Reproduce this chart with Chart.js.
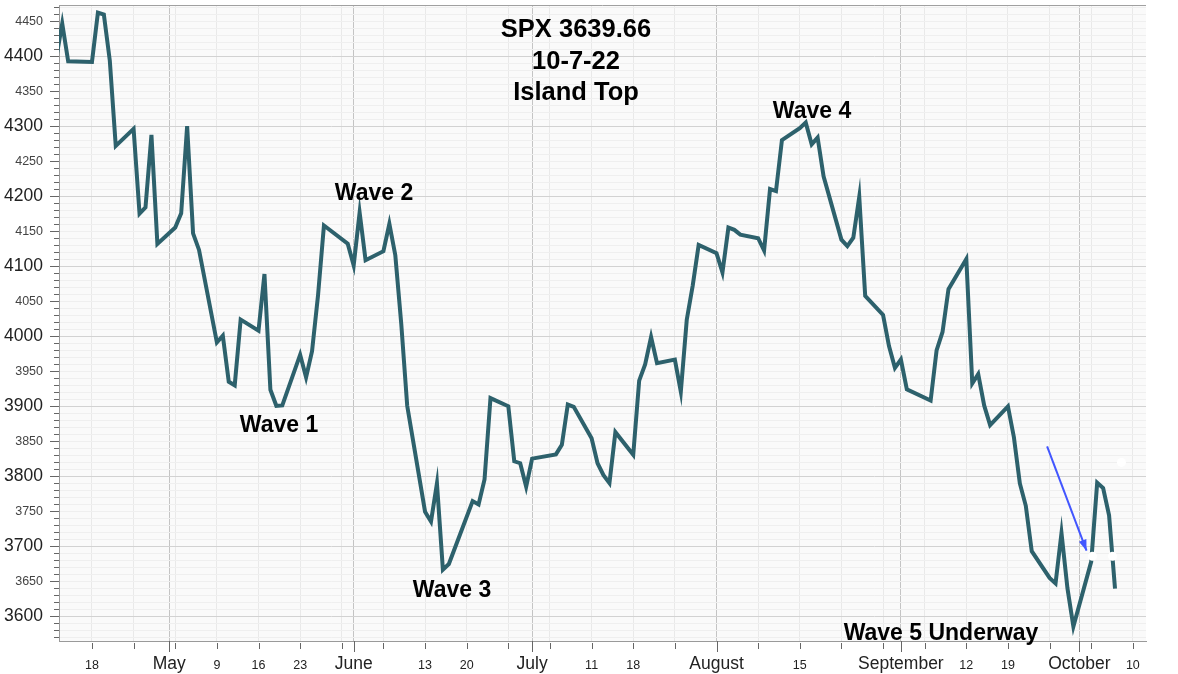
<!DOCTYPE html>
<html>
<head>
<meta charset="utf-8">
<script src="https://cdn.jsdelivr.net/npm/chart.js@4.4.1/dist/chart.umd.min.js"></script>
<style>
  html, body { margin: 0; padding: 0; background: #fff; }
  #wrap { width: 1178px; height: 674px; }
</style>
</head>
<body>
<div id="wrap"><canvas id="spx" width="1178" height="674"></canvas></div>
<script>
// SPX daily closes, April - October 2022
const tradingDays = [
  "2022-04-12", "2022-04-13", "2022-04-14", "2022-04-18", "2022-04-19", "2022-04-20", "2022-04-21", "2022-04-22",
  "2022-04-25", "2022-04-26", "2022-04-27", "2022-04-28", "2022-04-29",
  "2022-05-02", "2022-05-03", "2022-05-04", "2022-05-05", "2022-05-06",
  "2022-05-09", "2022-05-10", "2022-05-11", "2022-05-12", "2022-05-13",
  "2022-05-16", "2022-05-17", "2022-05-18", "2022-05-19", "2022-05-20",
  "2022-05-23", "2022-05-24", "2022-05-25", "2022-05-26", "2022-05-27",
  "2022-05-31", "2022-06-01", "2022-06-02", "2022-06-03",
  "2022-06-06", "2022-06-07", "2022-06-08", "2022-06-09", "2022-06-10",
  "2022-06-13", "2022-06-14", "2022-06-15", "2022-06-16", "2022-06-17",
  "2022-06-21", "2022-06-22", "2022-06-23", "2022-06-24",
  "2022-06-27", "2022-06-28", "2022-06-29", "2022-06-30", "2022-07-01",
  "2022-07-05", "2022-07-06", "2022-07-07", "2022-07-08",
  "2022-07-11", "2022-07-12", "2022-07-13", "2022-07-14", "2022-07-15",
  "2022-07-18", "2022-07-19", "2022-07-20", "2022-07-21", "2022-07-22",
  "2022-07-25", "2022-07-26", "2022-07-27", "2022-07-28", "2022-07-29",
  "2022-08-01", "2022-08-02", "2022-08-03", "2022-08-04", "2022-08-05",
  "2022-08-08", "2022-08-09", "2022-08-10", "2022-08-11", "2022-08-12",
  "2022-08-15", "2022-08-16", "2022-08-17", "2022-08-18", "2022-08-19",
  "2022-08-22", "2022-08-23", "2022-08-24", "2022-08-25", "2022-08-26",
  "2022-08-29", "2022-08-30", "2022-08-31", "2022-09-01", "2022-09-02",
  "2022-09-06", "2022-09-07", "2022-09-08", "2022-09-09",
  "2022-09-12", "2022-09-13", "2022-09-14", "2022-09-15", "2022-09-16",
  "2022-09-19", "2022-09-20", "2022-09-21", "2022-09-22", "2022-09-23",
  "2022-09-26", "2022-09-27", "2022-09-28", "2022-09-29", "2022-09-30",
  "2022-10-03", "2022-10-04", "2022-10-05", "2022-10-06", "2022-10-07"
];
const closes = [
  4397.45, 4446.59, 4392.59, 4391.69, 4462.21, 4459.45, 4393.66, 4271.78,
  4296.12, 4175.20, 4183.96, 4287.50, 4131.93,
  4155.38, 4175.48, 4300.17, 4146.87, 4123.34,
  3991.24, 4001.05, 3935.18, 3930.08, 4023.89,
  4008.01, 4088.85, 3923.68, 3900.79, 3901.36,
  3973.75, 3941.48, 3978.73, 4057.84, 4158.24,
  4132.15, 4101.23, 4176.82, 4108.54,
  4121.43, 4160.68, 4115.77, 4017.82, 3900.86,
  3749.63, 3735.48, 3789.99, 3666.77, 3674.84,
  3764.79, 3759.89, 3795.73, 3911.74,
  3900.11, 3821.55, 3818.83, 3785.38, 3825.33,
  3831.39, 3845.08, 3902.62, 3899.38,
  3854.43, 3818.80, 3801.78, 3790.38, 3863.16,
  3830.85, 3936.69, 3959.90, 3998.95, 3961.63,
  3966.84, 3921.05, 4023.61, 4072.43, 4130.29,
  4118.63, 4091.19, 4155.17, 4151.94, 4145.19,
  4140.06, 4122.47, 4210.24, 4207.27, 4280.15,
  4297.14, 4305.20, 4274.04, 4283.74, 4228.48,
  4137.99, 4128.73, 4140.77, 4199.12, 4057.66,
  4030.61, 3986.16, 3955.00, 3966.85, 3924.26,
  3908.19, 3979.87, 4006.18, 4067.36,
  4110.41, 3932.69, 3946.01, 3901.35, 3873.33,
  3899.89, 3855.93, 3789.93, 3757.99, 3693.23,
  3655.04, 3647.29, 3719.04, 3640.47, 3585.62,
  3678.43, 3790.93, 3783.28, 3744.52, 3639.66
];

// x axis ticks (Mondays and first of month)
const tickDates = [
  "2022-04-18", "2022-04-25", "2022-05-01", "2022-05-02", "2022-05-09", "2022-05-16", "2022-05-23",
  "2022-05-30", "2022-06-01", "2022-06-06", "2022-06-13", "2022-06-20", "2022-06-27", "2022-07-01",
  "2022-07-04", "2022-07-11", "2022-07-18", "2022-07-25", "2022-08-01", "2022-08-08", "2022-08-15",
  "2022-08-22", "2022-08-29", "2022-09-01", "2022-09-05", "2022-09-12", "2022-09-19", "2022-09-26",
  "2022-10-01", "2022-10-03", "2022-10-10"
];
const tickLabels = [
  "18", "", "May", "", "9", "16", "23",
  "", "June", "", "13", "20", "", "July",
  "", "11", "18", "", "August", "", "15",
  "", "", "September", "", "12", "19", "",
  "October", "", "10"
];

// gap markers and the blue arrow
const gapDates = ["2022-10-03T05:00Z", "2022-10-06T14:00Z", "2022-10-08T02:00Z"];
const gapValues = [3686, 3686, 3820];
const arrowDates = ["2022-09-25T14:00Z", "2022-10-02T05:00Z"];
const arrowValues = [3843, 3694];

const xStart = "2022-04-12T11:00Z";
const xEnd = "2022-10-12T05:00Z";
const yMin = 3565;
const yMax = 4473;

const base = Date.UTC(2022, 3, 18);
const dayNum = (s) => (Date.parse(s) - base) / 864e5;
const pts = (ds, vs) => ds.map((d, i) => ({ x: dayNum(d), y: vs[i] }));

const FONT = '"Liberation Sans", Arial, sans-serif';
const isMonth = (i) => (tickLabels[i] || '').length > 2;
const isHundred = (c) => !!(c && c.tick && c.tick.value % 100 === 0);
const noPad = (scale) => {
  scale.paddingTop = 0;
  scale.paddingBottom = 0;
  scale.paddingLeft = 0;
  scale.paddingRight = 0;
};

const decor = {
  id: 'decor',
  beforeDraw(chart) {
    const { ctx, chartArea: a } = chart;
    ctx.save();
    ctx.fillStyle = '#fafafa';
    ctx.fillRect(a.left, a.top, a.right - a.left, a.bottom - a.top);
    ctx.restore();
  },
  afterDatasetsDraw(chart) {
    const { ctx } = chart;
    const meta = chart.getDatasetMeta(1);
    const p0 = meta.data[0], p1 = meta.data[1];
    if (!p0 || !p1) return;
    const ang = Math.atan2(p1.y - p0.y, p1.x - p0.x);
    const len = 11, hw = 4;
    ctx.save();
    ctx.fillStyle = '#4256ff';
    ctx.beginPath();
    ctx.moveTo(p1.x, p1.y);
    ctx.lineTo(p1.x - len * Math.cos(ang) + hw * Math.sin(ang), p1.y - len * Math.sin(ang) - hw * Math.cos(ang));
    ctx.lineTo(p1.x - len * Math.cos(ang) - hw * Math.sin(ang), p1.y - len * Math.sin(ang) + hw * Math.cos(ang));
    ctx.closePath();
    ctx.fill();
    ctx.restore();
  },
  afterDraw(chart) {
    const { ctx, chartArea: a } = chart;
    const xs = chart.scales.x, ys = chart.scales.y;
    ctx.save();
    // top border
    ctx.strokeStyle = '#a0a0a0';
    ctx.lineWidth = 1;
    ctx.beginPath();
    ctx.moveTo(a.left, Math.round(a.top) + 0.5);
    ctx.lineTo(a.right, Math.round(a.top) + 0.5);
    ctx.stroke();
    // tick marks
    ctx.strokeStyle = '#666';
    ctx.beginPath();
    ys.ticks.forEach((t) => {
      const py = Math.round(ys.getPixelForValue(t.value)) + 0.5;
      const l = t.value % 50 === 0 ? 9 : 5;
      ctx.moveTo(ys.right - l, py);
      ctx.lineTo(ys.right, py);
    });
    xs.ticks.forEach((t, i) => {
      const px = Math.round(xs.getPixelForValue(t.value)) + 0.5;
      const m = isMonth(i);
      ctx.moveTo(px, xs.top + (m ? 0 : 2));
      ctx.lineTo(px, xs.top + (m ? 11 : 8));
    });
    ctx.stroke();

    // annotations
    ctx.fillStyle = '#000';
    ctx.textAlign = 'center';
    ctx.textBaseline = 'alphabetic';
    ctx.font = 'bold 25.5px ' + FONT;
    ctx.fillText('SPX 3639.66', 576, 37);
    ctx.fillText('10-7-22', 576, 68.5);
    ctx.fillText('Island Top', 576, 100);
    ctx.font = 'bold 23px ' + FONT;
    ctx.fillText('Wave 1', 279, 432);
    ctx.fillText('Wave 2', 374, 200);
    ctx.fillText('Wave 3', 452, 597);
    ctx.fillText('Wave 4', 812, 117.5);
    ctx.fillText('Wave 5 Underway', 941, 640);
    ctx.restore();
  }
};

new Chart(document.getElementById('spx'), {
  type: 'line',
  data: {
    datasets: [
      {
        label: 'gap',
        data: pts(gapDates, gapValues),
        showLine: false,
        pointRadius: 4.5,
        pointBackgroundColor: '#ffffff',
        pointBorderWidth: 0,
        clip: 0,
        order: 0
      },
      {
        label: 'arrow',
        data: pts(arrowDates, arrowValues),
        borderColor: '#4256ff',
        borderWidth: 2,
        pointRadius: 0,
        order: 1
      },
      {
        label: 'SPX',
        data: pts(tradingDays, closes),
        borderColor: '#2d616c',
        borderWidth: 4,
        pointRadius: 0,
        tension: 0,
        clip: 0,
        order: 2
      }
    ]
  },
  options: {
    responsive: false,
    animation: false,
    devicePixelRatio: 1,
    layout: { padding: { top: 5, right: 32, left: 0, bottom: 0 } },
    plugins: {
      legend: { display: false },
      tooltip: { enabled: false }
    },
    scales: {
      x: {
        type: 'linear',
        min: dayNum(xStart),
        max: dayNum(xEnd),
        afterBuildTicks: (scale) => {
          scale.ticks = tickDates.map((d) => ({ value: dayNum(d) }));
        },
        afterFit: (scale) => { scale.height = 33; noPad(scale); },
        grid: {
          drawTicks: false,
          color: (c) => (c && c.tick && isMonth(c.index) ? '#c4c4c4' : '#e9e9e9')
        },
        border: { display: true, color: '#9a9a9a' },
        ticks: {
          autoSkip: false,
          maxRotation: 0,
          padding: 12.5,
          callback: (v, i) => tickLabels[i] || '',
          color: '#222',
          font: (c) => (c && c.tick && isMonth(c.index)
            ? { family: FONT, size: 17.5, lineHeight: 1.2 }
            : { family: FONT, size: 12.5, lineHeight: 1.9 })
        }
      },
      y: {
        min: yMin,
        max: yMax,
        afterBuildTicks: (scale) => {
          const t = [];
          for (let v = 3570; v <= 4470; v += 10) t.push({ value: v });
          scale.ticks = t;
        },
        afterFit: (scale) => { scale.width = 59; noPad(scale); },
        grid: {
          drawTicks: false,
          color: (c) => (isHundred(c) ? '#d2d2d2' : '#efefef')
        },
        border: { display: true, color: '#9a9a9a' },
        ticks: {
          autoSkip: false,
          padding: 16,
          callback: (v) => (v % 50 === 0 ? String(v) : ''),
          color: (c) => (isHundred(c) ? '#222' : '#444'),
          font: (c) => (isHundred(c)
            ? { family: FONT, size: 17.5 }
            : { family: FONT, size: 12.5 })
        }
      }
    }
  },
  plugins: [decor]
});
</script>
</body>
</html>
